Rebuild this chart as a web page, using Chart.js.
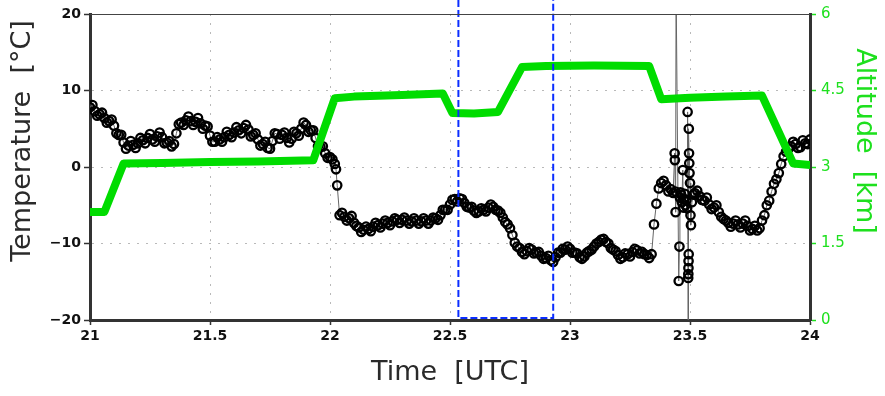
<!DOCTYPE html>
<html>
<head>
<meta charset="utf-8">
<script src="https://cdn.jsdelivr.net/npm/chart.js@4.4.1/dist/chart.umd.min.js"></script>
<style>
html,body{margin:0;padding:0;background:#fff;}
#wrap{width:885px;height:396px;position:relative;}
</style>
</head>
<body>
<div id="wrap"><canvas id="c" width="885" height="396"></canvas></div>
<script>
// ---------- data ----------
const xTicks = [21, 21.5, 22, 22.5, 23, 23.5, 24];
const tempTicks = [-20, -10, 0, 10, 20];
const altTicks = [0, 1.5, 3, 4.5, 6];

const altTime = [21.00, 21.06, 21.14, 21.30, 21.50, 21.70, 21.93, 22.02, 22.10, 22.30, 22.47, 22.51, 22.60, 22.70, 22.80, 22.90, 23.10, 23.33, 23.38, 23.50, 23.65, 23.80, 23.93, 24.00];
const altKm   = [2.12, 2.12, 3.07, 3.08, 3.10, 3.11, 3.13, 4.35, 4.38, 4.41, 4.44, 4.06, 4.05, 4.08, 4.96, 4.98, 4.99, 4.98, 4.33, 4.36, 4.38, 4.40, 3.07, 3.04];

const tempTime = [
  21.00, 21.01, 21.02, 21.03, 21.04, 21.05, 21.06, 21.07, 21.08, 21.09,
  21.10, 21.11, 21.12, 21.13, 21.14, 21.15, 21.16, 21.17, 21.18, 21.19,
  21.20, 21.21, 21.22, 21.23, 21.24, 21.25, 21.26, 21.27, 21.28, 21.29,
  21.30, 21.31, 21.32, 21.33, 21.34, 21.35, 21.36, 21.37, 21.38, 21.39,
  21.40, 21.41, 21.42, 21.43, 21.44, 21.45, 21.46, 21.47, 21.48, 21.49,
  21.50, 21.51, 21.52, 21.53, 21.54, 21.55, 21.56, 21.57, 21.58, 21.59,
  21.60, 21.61, 21.62, 21.63, 21.64, 21.65, 21.66, 21.67, 21.68, 21.69,
  21.70, 21.71, 21.72, 21.73, 21.74, 21.75, 21.76, 21.77, 21.78, 21.79,
  21.80, 21.81, 21.82, 21.83, 21.84, 21.85, 21.86, 21.87, 21.88, 21.89,
  21.90, 21.91, 21.92, 21.93, 21.94, 21.95, 21.96, 21.97, 21.98, 21.99,
  22.00, 22.01, 22.02, 22.025, 22.03, 22.04, 22.05,
  22.06, 22.07, 22.08, 22.09, 22.10, 22.11, 22.12, 22.13, 22.14, 22.15,
  22.16, 22.17, 22.18, 22.19, 22.20, 22.21, 22.22, 22.23, 22.24, 22.25,
  22.26, 22.27, 22.28, 22.29, 22.30, 22.31, 22.32, 22.33, 22.34, 22.35,
  22.36, 22.37, 22.38, 22.39, 22.40, 22.41, 22.42, 22.43, 22.44, 22.45,
  22.46, 22.47, 22.48, 22.49, 22.50, 22.51, 22.52, 22.53, 22.54, 22.55,
  22.56, 22.57, 22.58, 22.59, 22.60, 22.61, 22.62, 22.63, 22.64, 22.65,
  22.66, 22.67, 22.68, 22.69, 22.70, 22.71, 22.72, 22.73, 22.74, 22.75,
  22.76, 22.77, 22.78, 22.79, 22.80, 22.81, 22.82, 22.83, 22.84, 22.85,
  22.86, 22.87, 22.88, 22.89, 22.90, 22.91, 22.92, 22.93, 22.94, 22.95,
  22.96, 22.97, 22.98, 22.99, 23.00, 23.01, 23.02, 23.03, 23.04, 23.05,
  23.06, 23.07, 23.08, 23.09, 23.10, 23.11, 23.12, 23.13, 23.14, 23.15,
  23.16, 23.17, 23.18, 23.19, 23.20, 23.21, 23.22, 23.23, 23.24, 23.25,
  23.26, 23.27, 23.28, 23.29, 23.30, 23.31, 23.32, 23.33, 23.34,
  23.35, 23.36, 23.37, 23.38, 23.39, 23.40, 23.41, 23.42, 23.43, 23.436,
  23.437, 23.439, 23.440, 23.442, 23.453, 23.456, 23.458, 23.460, 23.463, 23.466,
  23.470, 23.472, 23.475, 23.478, 23.481, 23.485, 23.488, 23.490, 23.492, 23.4925,
  23.493, 23.4935, 23.494, 23.4945, 23.495, 23.496, 23.497, 23.498, 23.500, 23.502,
  23.504, 23.508, 23.515, 23.52,
  23.53, 23.54, 23.55, 23.56, 23.57, 23.58, 23.59, 23.60, 23.61, 23.62,
  23.63, 23.64, 23.65, 23.66, 23.67, 23.68, 23.69, 23.70, 23.71, 23.72,
  23.73, 23.74, 23.75, 23.76, 23.77, 23.78, 23.79, 23.80, 23.81, 23.82,
  23.83, 23.84, 23.85, 23.86, 23.87, 23.88, 23.89, 23.90, 23.91, 23.92,
  23.93, 23.94, 23.95, 23.96, 23.97, 23.98, 23.99, 24.00
];
const tempC = [
  7.8, 8.1, 7.3, 6.7, 6.9, 7.1, 6.4, 5.8, 6.0, 6.2,
  5.4, 4.4, 4.2, 4.2, 3.2, 2.4, 2.8, 3.4, 2.9, 2.5,
  3.1, 3.8, 3.5, 3.1, 3.8, 4.3, 3.6, 3.3, 4.0, 4.5,
  3.9, 3.1, 3.2, 3.4, 2.7, 3.0, 4.4, 5.6, 5.8, 5.5,
  6.1, 6.6, 6.0, 5.5, 5.9, 6.4, 5.7, 5.0, 5.4, 5.3,
  4.1, 3.3, 3.3, 3.9, 3.6, 3.3, 3.9, 4.6, 4.2, 3.9,
  4.5, 5.2, 4.8, 4.4, 5.1, 5.5, 4.9, 4.0, 4.2, 4.4,
  3.6, 2.8, 3.0, 3.3, 2.5, 2.4, 3.4, 4.4, 4.3, 3.7,
  4.2, 4.5, 3.8, 3.2, 3.7, 4.6, 4.4, 4.1, 5.0, 5.8,
  5.5, 4.6, 4.8, 4.8, 3.8, 2.7, 2.6, 2.7, 1.8, 1.2,
  1.3, 1.0, 0.4, -0.3, -2.4, -6.3, -6.0,
  -6.5, -7.0, -6.7, -6.4, -7.3, -7.7, -7.9, -8.5, -8.2, -7.8,
  -8.1, -8.4, -7.8, -7.3, -7.6, -7.9, -7.4, -7.0, -7.3, -7.6,
  -7.1, -6.7, -6.9, -7.3, -6.9, -6.6, -7.0, -7.4, -7.1, -6.7,
  -7.0, -7.4, -7.1, -6.7, -7.0, -7.4, -7.0, -6.6, -6.7, -6.9,
  -6.3, -5.6, -5.6, -5.6, -4.9, -4.3, -4.2, -4.5, -4.1, -4.2,
  -4.7, -5.2, -5.3, -5.2, -5.7, -6.0, -5.8, -5.4, -5.6, -5.8,
  -5.3, -4.9, -5.2, -5.6, -5.7, -6.0, -6.6, -7.2, -7.5, -8.0,
  -8.9, -9.9, -10.4, -10.6, -11.1, -11.4, -11.0, -10.6, -10.8, -11.3,
  -11.2, -11.1, -11.6, -12.0, -11.9, -11.6, -12.2, -12.4, -11.8, -11.2,
  -11.2, -10.7, -10.8, -10.4, -10.7, -11.2, -11.2, -11.3, -11.8, -12.0,
  -11.7, -11.2, -11.0, -10.8, -10.4, -10.0, -9.8, -9.5, -9.4, -9.8,
  -10.0, -10.6, -10.8, -11.0, -11.5, -12.0, -11.8, -11.3, -11.4, -11.7,
  -11.1, -10.7, -10.9, -11.3, -11.1, -11.4, -11.5, -11.9, -11.4,
  -7.5, -4.8, -2.8, -2.1, -1.8, -2.4, -3.2, -2.9, -3.4, 1.8,
  0.9, -3.2, -5.9, 24, -14.9, -10.4, -4.0, -3.3, -3.6, -4.6,
  -0.4, -5.3, -4.2, -3.5, -5.0, -4.3, -5.4, 7.2, -25, -14.5,
  -14.0, -13.2, -12.3, -11.4, 5.0, 1.8, 0.5, -0.8, -2.1, -6.3,
  -7.6, -4.6, -3.6, -3.4,
  -3.1, -3.8, -4.3, -4.4, -4.0, -4.9, -5.5, -5.3, -5.0, -5.9,
  -6.5, -6.8, -7.0, -7.3, -7.8, -7.4, -7.0, -7.5, -7.9, -7.4,
  -7.0, -7.7, -8.3, -8.1, -7.7, -8.3, -8.0, -7.0, -6.3, -5.0,
  -4.4, -3.2, -2.2, -1.6, -0.8, 0.4, 1.4, 2.0, 2.4, 2.7,
  3.3, 3.0, 2.5, 2.6, 3.5, 3.1, 3.0, 3.6
];

const boxTime = [22.535, 22.93];   // blue dashed box (time range)

// ---------- chart ----------
const GREEN = '#00dc00';
const GREEN_TXT = '#1ee01e';
const edgeTransparent = (lo, hi) => (ctx) => {
  const v = ctx.tick ? ctx.tick.value : null;
  return (v === lo || v === hi) ? 'rgba(0,0,0,0)' : '#b9b9b9';
};
const fmt = v => (v < 0 ? '\u2212' + Math.abs(v) : String(v));

const overlay = {
  id: 'overlay',
  afterDatasetsDraw(chart) {
    const ctx = chart.ctx, xs = chart.scales.x, ys = chart.scales.yTemp;
    const x0 = xs.getPixelForValue(boxTime[0]);
    const x1 = xs.getPixelForValue(boxTime[1]);
    const yb = ys.getPixelForValue(-20) - 2;
    ctx.save();
    ctx.strokeStyle = '#0b2dff';
    ctx.lineWidth = 2;
    ctx.setLineDash([7, 3]);
    ctx.beginPath();
    ctx.moveTo(x0, 0); ctx.lineTo(x0, yb); ctx.lineTo(x1, yb); ctx.lineTo(x1, 0);
    ctx.stroke();
    ctx.restore();
  },
  afterDraw(chart) {
    const ctx = chart.ctx, a = chart.chartArea;
    ctx.save();
    ctx.strokeStyle = '#444'; ctx.lineWidth = 1;
    ctx.beginPath(); ctx.moveTo(a.left, a.top + 0.5); ctx.lineTo(a.right, a.top + 0.5); ctx.stroke();
    ctx.font = '27px "DejaVu Sans"';
    ctx.textAlign = 'center';
    ctx.textBaseline = 'alphabetic';
    ctx.fillStyle = '#2a2a2a';
    ctx.fillText('Time  [UTC]', (a.left + a.right) / 2, 380);
    ctx.save(); ctx.translate(30, 141); ctx.rotate(-Math.PI / 2);
    ctx.fillText('Temperature  [\u00B0C]', 0, 0); ctx.restore();
    ctx.fillStyle = GREEN_TXT;
    ctx.save(); ctx.translate(857, 141); ctx.rotate(Math.PI / 2);
    ctx.fillText('Altitude  [km]', 0, 0); ctx.restore();
    ctx.restore();
  }
};

new Chart(document.getElementById('c'), {
  type: 'scatter',
  data: {
    datasets: [
      {
        label: 'Altitude [km]',
        data: altTime.map((t, i) => ({ x: t, y: altKm[i] })),
        yAxisID: 'yAlt',
        showLine: true,
        borderColor: GREEN,
        backgroundColor: GREEN,
        borderWidth: 8,
        borderCapStyle: 'round',
        borderJoinStyle: 'round',
        pointRadius: 0,
        clip: 0
      },
      {
        label: 'Temperature [\u00B0C]',
        data: tempTime.map((t, i) => ({ x: t, y: tempC[i] })),
        yAxisID: 'yTemp',
        showLine: true,
        borderColor: '#666',
        borderWidth: 1,
        pointRadius: 4.2,
        pointBorderWidth: 2.3,
        pointBorderColor: '#000',
        pointBackgroundColor: 'rgba(255,255,255,0)',
        clip: 0
      }
    ]
  },
  options: {
    responsive: false,
    animation: false,
    devicePixelRatio: 1,
    layout: { padding: { top: 8, left: 0, right: 0, bottom: 0 } },
    plugins: { legend: { display: false }, tooltip: { enabled: false } },
    scales: {
      x: {
        type: 'linear', position: 'bottom', min: 21, max: 24,
        afterBuildTicks: s => { s.ticks = xTicks.map(v => ({ value: v })); },
        afterFit: s => { s.height = 76; },
        ticks: { color: '#111', font: { family: 'DejaVu Sans', size: 14, weight: 'bold' }, padding: 3, maxRotation: 0, autoSkip: false, callback: v => fmt(v) },
        grid: { color: edgeTransparent(21, 24), lineWidth: 1, tickLength: 5, tickColor: '#333', tickWidth: 1.5 },
        border: { display: true, color: '#333', width: 3, dash: [2, 7] },
        title: { display: false }
      },
      yTemp: {
        axis: 'y', type: 'linear', position: 'left', min: -20, max: 20,
        afterBuildTicks: s => { s.ticks = tempTicks.map(v => ({ value: v })); },
        afterFit: s => { s.width = 90; },
        ticks: { color: '#111', font: { family: 'DejaVu Sans', size: 14, weight: 'bold' }, padding: 3, autoSkip: false, callback: v => fmt(v) },
        grid: { color: edgeTransparent(-20, 20), lineWidth: 1, tickLength: 6, tickColor: '#333', tickWidth: 1.5 },
        border: { display: true, color: '#333', width: 3, dash: [2, 7] },
        title: { display: false }
      },
      yAlt: {
        axis: 'y', type: 'linear', position: 'right', min: 0, max: 6,
        afterBuildTicks: s => { s.ticks = altTicks.map(v => ({ value: v })); },
        afterFit: s => { s.width = 75; },
        ticks: { color: GREEN_TXT, font: { family: 'DejaVu Sans', size: 15 }, padding: 5, autoSkip: false, callback: v => fmt(v) },
        grid: { drawOnChartArea: false, tickLength: 6, tickColor: GREEN_TXT, tickWidth: 1.5 },
        border: { display: true, color: '#333', width: 3 },
        title: { display: false }
      }
    }
  },
  plugins: [overlay]
});
</script>
</body>
</html>
